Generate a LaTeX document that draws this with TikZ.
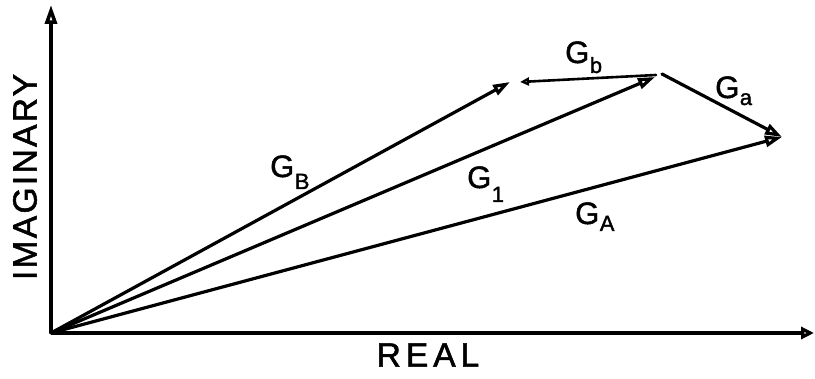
\documentclass[tikz,border=0pt]{standalone}
\usepackage{fontspec}
\setmainfont[FakeBold=1.6]{Liberation Sans}
\usetikzlibrary{arrows.meta}
\newcommand{\Gwith}[2]{G\kern0.5pt\raisebox{-#2pt}{\fontsize{22}{22}\selectfont #1}}
\begin{document}
\begin{tikzpicture}[x=1pt,y=-1pt,
  vec/.style={line width=3.2pt, line join=round, line cap=round,
    -{Triangle[open,length=17pt,width=11pt,line join=miter]}},
  smallvec/.style={line width=2.6pt, line cap=round,
    -{Triangle[open,length=9pt,width=8pt]}},
  axis/.style={line width=3.5pt, line join=miter},
  lbl/.style={font=\fontsize{31}{31}\selectfont, inner sep=0pt, anchor=base west},
  axlbl/.style={font=\fontsize{33.5}{33.5}\selectfont, inner sep=0pt}]
\useasboundingbox (0,0) rectangle (815,379);
% points
\coordinate (O) at (51,333);
\coordinate (Ytop) at (51,5);
\coordinate (Xend) at (814,333);
\coordinate (B) at (510,82);
\coordinate (V) at (662,74);
\coordinate (Vb) at (656,75);
\coordinate (Bb) at (520,82);
\coordinate (Ione) at (655,77);
\coordinate (A) at (782,137);
% axes
\draw[axis, -{Triangle[open,length=19pt,width=12pt]}] (O) -- (Ytop);
\draw[axis, -{Triangle[open,length=13pt,width=12pt]}] (O) -- (Xend);
% vectors
\draw[vec] (O) -- (B);
\draw[vec] (O) -- (Ione);
\draw[vec] (O) -- (A);
\draw[vec] (V) -- (A);
\draw[smallvec] (Vb) -- (Bb);
% labels
\node[lbl] (lB) at (270,177) {\Gwith{B}{12}};
\node[lbl] (l1) at (467,188) {\Gwith{1}{14}};
\node[lbl] (lA) at (575,224) {\Gwith{A}{7}};
\node[lbl] (lb) at (565,63) {\Gwith{b}{10}};
\node[lbl] (la) at (715,98) {\Gwith{a}{7}};
\node[axlbl, rotate=90] (im) at (25,177) {\addfontfeature{LetterSpace=7}IMAGINARY};
\node[axlbl] (re) at (428,355) {\addfontfeature{LetterSpace=15}REAL};
\end{tikzpicture}
\end{document}
